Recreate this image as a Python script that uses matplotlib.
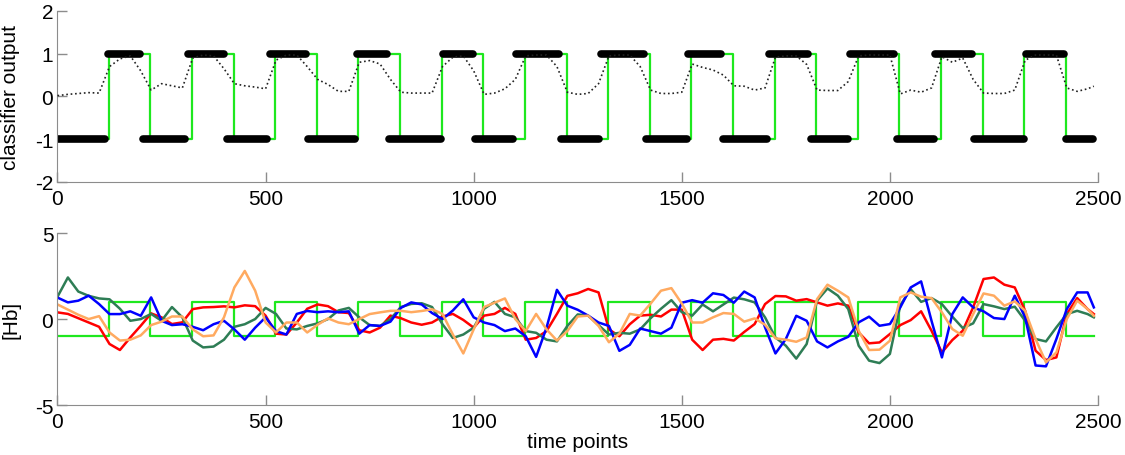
import numpy as np
import matplotlib
matplotlib.use("Agg")
import matplotlib.pyplot as plt

plt.rcParams['font.family'] = ['Liberation Sans', 'DejaVu Sans']
plt.rcParams['axes.unicode_minus'] = False

# --- data ---
# task blocks (green square wave): onsets, each block lasts 100 time points
block_onsets = [123, 323, 523, 723, 923, 1123, 1323, 1523, 1723, 1923, 2123, 2323]
block_len = 100
t_end = 2490

# predicted class segments (thick black)
pred_start = [0, 122, 205, 313, 407, 511, 603, 719, 797, 927, 1003, 1102, 1210,
              1307, 1414, 1515, 1600, 1709, 1810, 1904, 2016, 2109, 2203, 2328, 2424]
pred_end = [113, 198, 307, 400, 503, 596, 714, 792, 922, 998, 1094, 1204, 1302,
            1408, 1512, 1595, 1704, 1804, 1900, 2011, 2107, 2197, 2323, 2419, 2489]
pred_level = [-1, 1, -1, 1, -1, 1, -1, 1, -1, 1, -1, 1, -1,
              1, -1, 1, -1, 1, -1, 1, -1, 1, -1, 1, -1]

# sample times for the continuous curves
t = [0, 25, 50, 75, 100, 125, 150, 175, 200, 225, 250, 275, 300, 325, 350, 375,
     400, 425, 450, 475, 500, 525, 550, 575, 600, 625, 650, 675, 700, 725, 750,
     775, 800, 825, 850, 875, 900, 925, 950, 975, 1000, 1025, 1050, 1075, 1100,
     1125, 1150, 1175, 1200, 1225, 1250, 1275, 1300, 1325, 1350, 1375, 1400,
     1425, 1450, 1475, 1500, 1525, 1550, 1575, 1600, 1625, 1650, 1675, 1700,
     1725, 1750, 1775, 1800, 1825, 1850, 1875, 1900, 1925, 1950, 1975, 2000,
     2025, 2050, 2075, 2100, 2125, 2150, 2175, 2200, 2225, 2250, 2275, 2300,
     2325, 2350, 2375, 2400, 2425, 2450, 2475, 2490]

# continuous classifier output (dotted)
clf_out = [0.02, 0.05, 0.07, 0.09, 0.08, 0.70, 0.88, 0.95, 0.60, 0.15, 0.30, 0.25,
           0.20, 0.90, 0.97, 0.95, 0.65, 0.30, 0.25, 0.22, 0.18, 0.85, 0.97, 0.97,
           0.70, 0.40, 0.28, 0.12, 0.12, 0.80, 0.84, 0.76, 0.40, 0.10, 0.08, 0.08,
           0.08, 0.70, 0.92, 0.95, 0.60, 0.05, 0.08, 0.18, 0.40, 0.95, 0.97, 0.97,
           0.70, 0.10, 0.05, 0.07, 0.30, 0.95, 0.97, 0.97, 0.70, 0.15, 0.07, 0.07,
           0.10, 0.76, 0.68, 0.62, 0.50, 0.25, 0.24, 0.15, 0.20, 0.92, 0.95, 0.95,
           0.75, 0.15, 0.14, 0.14, 0.35, 0.95, 0.97, 0.97, 0.97, 0.06, 0.15, 0.10,
           0.20, 0.93, 0.80, 0.90, 0.40, 0.08, 0.07, 0.07, 0.15, 0.85, 0.97, 0.97,
           0.97, 0.20, 0.12, 0.18, 0.24]

# [Hb] channels
hb_red = [0.39, 0.30, 0.05, -0.20, -0.45, -1.45, -1.80, -1.07, -0.39, 0.33, 0.10,
          -0.29, -0.19, 0.58, 0.68, 0.70, 0.74, 0.68, 0.80, 0.75, 0.20, -0.85,
          -0.90, -0.20, 0.60, 0.85, 0.75, 0.40, 0.35, -0.65, -0.78, -0.50, 0.20,
          0.05, -0.20, -0.33, -0.20, 0.15, 0.30, -0.05, -0.50, 0.20, 0.30, 0.65,
          0.30, -1.20, -1.10, -0.70, 0.30, 1.35, 1.50, 1.75, 1.55, -0.60, -1.00,
          -0.30, 0.20, 0.25, 0.15, 0.55, 0.55, -1.20, -1.80, -1.20, -1.15, -1.25,
          -0.75, -0.29, 0.87, 1.34, 1.32, 1.07, 1.16, 0.97, 0.78, 0.91, 0.78,
          -0.78, -1.41, -1.36, -0.87, -0.35, -0.06, 0.45, -0.68, -1.94, -1.22,
          -0.68, 0.68, 2.33, 2.42, 2.00, 1.84, 0.48, -1.84, -2.38, -2.23, 0.29,
          1.22, 0.58, 0.29]
hb_dkgreen = [1.30, 2.42, 1.60, 1.35, 1.20, 1.15, 0.60, -0.10, 0.00, 0.30, -0.10,
              0.70, 0.10, -1.25, -1.65, -1.60, -1.20, -0.45, -0.30, 0.00, 0.65,
              0.30, -0.55, -0.60, -0.40, -0.25, 0.00, 0.50, 0.65, 0.10, -0.35,
              -0.40, 0.00, 0.70, 0.88, 0.92, 0.70, -0.30, -1.10, -0.90, -0.50,
              0.60, 1.00, 0.30, 0.10, -0.70, -0.80, -1.20, -1.30, -0.40, 0.27,
              0.20, -0.35, -0.90, -0.80, -0.85, -0.60, 0.05, 0.60, 1.10, 0.40,
              0.20, 0.85, 0.45, 0.85, 1.25, 1.15, 0.97, 0.10, -1.07, -1.55, -2.30,
              -1.45, 1.07, 1.78, 1.36, 0.58, -1.55, -2.42, -2.56, -2.03, 0.80,
              1.74, 1.00, 1.22, 0.87, 0.14, -0.52, -0.25, 0.87, 0.74, 0.58, 0.72,
              -0.10, -1.16, -1.30, -0.48, 0.29, 0.48, 0.29, 0.10]
hb_blue = [1.25, 0.97, 1.07, 1.36, 0.87, 0.29, 0.29, 0.45, 0.19, 1.26, -0.10,
           -0.35, -0.30, -0.45, -0.65, -0.30, -0.10, -0.60, -1.20, -0.50, 0.10,
           -0.70, -0.90, 0.30, 0.47, 0.40, 0.45, 0.40, 0.45, -0.85, -0.35, -0.40,
           -0.15, 0.65, 0.97, 0.85, 0.35, 0.00, 0.50, 1.15, 0.10, -0.20, -0.35,
           -0.70, -0.55, -1.00, -2.20, -0.50, 1.70, 0.78, 0.54, 0.20, -0.20,
           -0.40, -1.85, -1.50, -0.55, -0.70, -0.85, -0.50, 0.95, 1.10, 0.95,
           1.50, 1.40, 0.95, 1.60, 1.26, -0.48, -2.00, -1.16, 0.19, -0.10, -1.30,
           -1.65, -1.30, -1.03, -0.19, 0.14, -0.39, -0.29, 0.68, 1.84, 2.19,
           -0.10, -2.23, 0.29, 1.26, 0.68, 0.45, 0.06, 0.00, 1.36, 0.10, -2.70,
           -2.75, -1.16, 0.58, 1.55, 1.55, 0.68]
hb_orange = [0.85, 0.55, 0.25, 0.00, 0.17, -0.78, -1.25, -1.20, -0.95, -0.35,
             -0.15, 0.15, 0.15, -0.60, -1.00, -0.95, 0.10, 1.84, 2.80, 1.65,
             -0.20, -0.78, -0.20, -0.20, -0.78, -0.33, 0.04, -0.20, -0.30, 0.00,
             0.29, 0.39, 0.48, 0.48, 0.40, 0.47, 0.57, 0.30, -0.90, -2.00, -0.60,
             0.70, 0.95, 1.20, 0.00, -0.70, 0.30, -0.60, -1.25, -0.70, 0.15, 0.20,
             -0.40, -1.35, -0.85, 0.30, 0.20, 0.90, 1.65, 1.80, 0.90, -0.20, -0.20,
             0.10, 0.35, 0.30, -0.15, 0.04, -0.33, -1.12, -1.20, -1.32, -1.07,
             1.16, 2.00, 1.65, 1.26, -0.68, -1.80, -1.78, -1.26, 1.26, 1.55, 1.30,
             1.22, 0.39, -0.58, -0.97, 0.29, 1.49, 1.36, 0.78, 1.03, 0.48, -1.16,
             -2.52, -1.94, 0.00, 1.07, 0.58, 0.19]

# --- build the task square wave from the onsets ---
sq_x = [0]
sq_y = [-1]
for on in block_onsets:
    off = on + block_len
    sq_x += [on, on, off, off]
    sq_y += [-1, 1, 1, -1]
sq_x.append(t_end)
sq_y.append(-1)

task_green = '#1EE81E'
axis_grey = '#8c8c8c'
fs = 15


def style_axes(ax):
    ax.spines['top'].set_visible(False)
    ax.spines['right'].set_visible(False)
    ax.spines['left'].set_color(axis_grey)
    ax.spines['bottom'].set_color(axis_grey)
    ax.tick_params(direction='in', length=7, width=1, color=axis_grey,
                   labelsize=fs, labelcolor='black')
    ax.tick_params(axis='y', pad=3)
    ax.tick_params(axis='x', pad=5)
    ax.set_xlim(0, 2500)
    ax.set_xticks([0, 500, 1000, 1500, 2000, 2500])
    ax.yaxis.set_label_coords(-0.036, 0.5)


fig = plt.figure(figsize=(11.25, 4.56), dpi=100)
ax1 = fig.add_axes([0.0511, 0.5987, 0.9249, 0.375])
ax2 = fig.add_axes([0.0511, 0.1096, 0.9249, 0.377])

# top: classifier output
ax1.plot(sq_x, sq_y, color=task_green, lw=1.6, zorder=1)
for s, e, lev in zip(pred_start, pred_end, pred_level):
    ax1.plot([s, e], [lev, lev], color='black', lw=5.5,
             solid_capstyle='round', zorder=2)
ax1.plot(t, clf_out, color='#222222', ls=':', lw=1.2, zorder=3)
ax1.set_ylim(-2, 2)
ax1.set_yticks([-2, -1, 0, 1, 2])
ax1.set_ylabel('classifier output', fontsize=fs)
style_axes(ax1)

# bottom: [Hb]
ax2.plot(sq_x, sq_y, color=task_green, lw=1.6, zorder=1)
ax2.plot(t, hb_red, color='#ff0000', lw=1.8, zorder=2)
ax2.plot(t, hb_dkgreen, color='#2e7d55', lw=1.8, zorder=2)
ax2.plot(t, hb_blue, color='#0000ff', lw=1.8, zorder=2)
ax2.plot(t, hb_orange, color='#ffaa60', lw=1.8, zorder=2)
ax2.set_ylim(-5, 5)
ax2.set_yticks([-5, 0, 5])
ax2.set_ylabel('[Hb]', fontsize=fs)
ax2.set_xlabel('time points', fontsize=fs, labelpad=1)
style_axes(ax2)

fig.savefig('out.png', dpi=100)
